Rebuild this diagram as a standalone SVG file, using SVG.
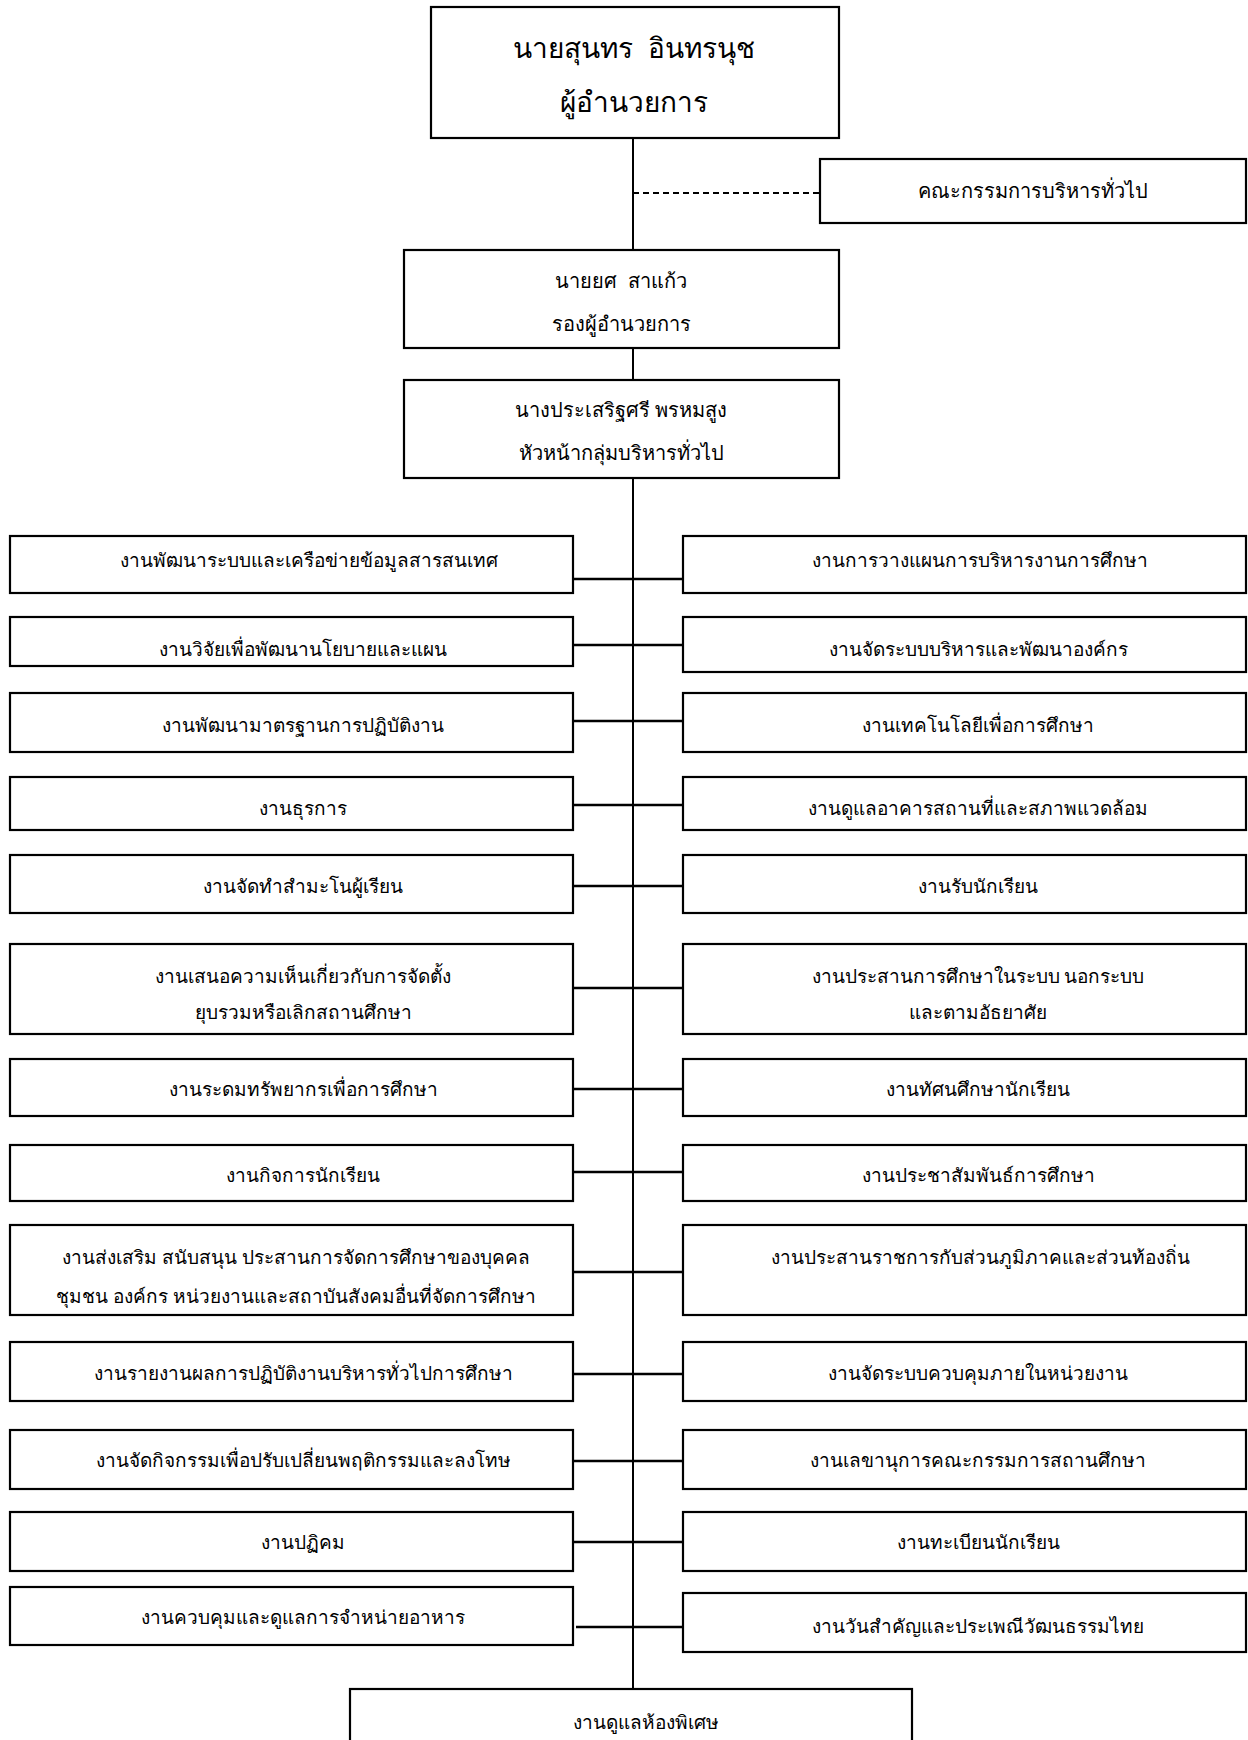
<svg xmlns="http://www.w3.org/2000/svg" width="1248" height="1740" viewBox="0 0 1248 1740">
<style>
.box{fill:#fff;stroke:#000;stroke-width:2.2}
.ln{stroke:#000;stroke-width:2;fill:none}
.hc{stroke:#000;stroke-width:2.5;fill:none}
.dash{stroke:#000;stroke-width:2;stroke-dasharray:6 4;fill:none}
text{font-family:"Noto Sans","DejaVu Sans",sans-serif;fill:#000;text-anchor:middle}
.t{font-size:19px}
.tm{font-size:20px}
.tl{font-size:28px}
</style>
<rect width="1248" height="1740" fill="#fff"/>
<g id="connectors">
<line class="ln" x1="633" y1="138" x2="633" y2="1689"/>
<line class="dash" x1="633" y1="193" x2="820" y2="193"/>
<line class="hc" x1="573" y1="579" x2="683" y2="579"/>
<line class="hc" x1="573" y1="645" x2="683" y2="645"/>
<line class="hc" x1="573" y1="721" x2="683" y2="721"/>
<line class="hc" x1="573" y1="805" x2="683" y2="805"/>
<line class="hc" x1="573" y1="886" x2="683" y2="886"/>
<line class="hc" x1="573" y1="988" x2="683" y2="988"/>
<line class="hc" x1="573" y1="1089" x2="683" y2="1089"/>
<line class="hc" x1="573" y1="1172" x2="683" y2="1172"/>
<line class="hc" x1="573" y1="1272" x2="683" y2="1272"/>
<line class="hc" x1="573" y1="1374" x2="683" y2="1374"/>
<line class="hc" x1="573" y1="1461" x2="683" y2="1461"/>
<line class="hc" x1="573" y1="1542" x2="683" y2="1542"/>
<line class="hc" x1="576" y1="1627" x2="687" y2="1627"/>
</g>
<g id="director">
<rect class="box" x="431" y="7" width="408" height="131"/>
<text class="tl" x="634" y="58" xml:space="preserve">นายสุนทร  อินทรนุช</text>
<text class="tl" x="634" y="112">ผู้อำนวยการ</text>
</g>
<g id="committee">
<rect class="box" x="820" y="159" width="426" height="64"/>
<text class="tm" x="1033" y="198">คณะกรรมการบริหารทั่วไป</text>
</g>
<g id="deputy">
<rect class="box" x="404" y="250" width="435" height="98"/>
<text class="tm" x="621" y="288" xml:space="preserve">นายยศ  สาแก้ว</text>
<text class="tm" x="621" y="331">รองผู้อำนวยการ</text>
</g>
<g id="head">
<rect class="box" x="404" y="380" width="435" height="98"/>
<text class="tm" x="621" y="417">นางประเสริฐศรี พรหมสูง</text>
<text class="tm" x="621" y="460">หัวหน้ากลุ่มบริหารทั่วไป</text>
</g>
<g id="L1"><rect class="box" x="10" y="536" width="563" height="57"/><text class="t" x="309" y="567">งานพัฒนาระบบและเครือข่ายข้อมูลสารสนเทศ</text></g>
<g id="R1"><rect class="box" x="683" y="536" width="563" height="57"/><text class="t" x="980" y="567">งานการวางแผนการบริหารงานการศึกษา</text></g>
<g id="L2"><rect class="box" x="10" y="617" width="563" height="49"/><text class="t" x="303" y="656">งานวิจัยเพื่อพัฒนานโยบายและแผน</text></g>
<g id="R2"><rect class="box" x="683" y="617" width="563" height="55"/><text class="t" x="978" y="656">งานจัดระบบบริหารและพัฒนาองค์กร</text></g>
<g id="L3"><rect class="box" x="10" y="693" width="563" height="59"/><text class="t" x="303" y="732">งานพัฒนามาตรฐานการปฏิบัติงาน</text></g>
<g id="R3"><rect class="box" x="683" y="693" width="563" height="59"/><text class="t" x="978" y="732">งานเทคโนโลยีเพื่อการศึกษา</text></g>
<g id="L4"><rect class="box" x="10" y="777" width="563" height="53"/><text class="t" x="303" y="815">งานธุรการ</text></g>
<g id="R4"><rect class="box" x="683" y="777" width="563" height="53"/><text class="t" x="978" y="815">งานดูแลอาคารสถานที่และสภาพแวดล้อม</text></g>
<g id="L5"><rect class="box" x="10" y="855" width="563" height="58"/><text class="t" x="303" y="893">งานจัดทำสำมะโนผู้เรียน</text></g>
<g id="R5"><rect class="box" x="683" y="855" width="563" height="58"/><text class="t" x="978" y="893">งานรับนักเรียน</text></g>
<g id="L6"><rect class="box" x="10" y="944" width="563" height="90"/><text class="t" x="303" y="983">งานเสนอความเห็นเกี่ยวกับการจัดตั้ง</text><text class="t" x="303" y="1019">ยุบรวมหรือเลิกสถานศึกษา</text></g>
<g id="R6"><rect class="box" x="683" y="944" width="563" height="90"/><text class="t" x="978" y="983">งานประสานการศึกษาในระบบ นอกระบบ</text><text class="t" x="978" y="1019">และตามอัธยาศัย</text></g>
<g id="L7"><rect class="box" x="10" y="1059" width="563" height="57"/><text class="t" x="303" y="1096">งานระดมทรัพยากรเพื่อการศึกษา</text></g>
<g id="R7"><rect class="box" x="683" y="1059" width="563" height="57"/><text class="t" x="978" y="1096">งานทัศนศึกษานักเรียน</text></g>
<g id="L8"><rect class="box" x="10" y="1145" width="563" height="56"/><text class="t" x="303" y="1182">งานกิจการนักเรียน</text></g>
<g id="R8"><rect class="box" x="683" y="1145" width="563" height="56"/><text class="t" x="978" y="1182">งานประชาสัมพันธ์การศึกษา</text></g>
<g id="L9"><rect class="box" x="10" y="1225" width="563" height="90"/><text class="t" x="296" y="1264">งานส่งเสริม สนับสนุน ประสานการจัดการศึกษาของบุคคล</text><text class="t" x="296" y="1303">ชุมชน องค์กร หน่วยงานและสถาบันสังคมอื่นที่จัดการศึกษา</text></g>
<g id="R9"><rect class="box" x="683" y="1225" width="563" height="90"/><text class="t" x="980" y="1264">งานประสานราชการกับส่วนภูมิภาคและส่วนท้องถิ่น</text></g>
<g id="L10"><rect class="box" x="10" y="1342" width="563" height="59"/><text class="t" x="303" y="1380">งานรายงานผลการปฏิบัติงานบริหารทั่วไปการศึกษา</text></g>
<g id="R10"><rect class="box" x="683" y="1342" width="563" height="59"/><text class="t" x="978" y="1380">งานจัดระบบควบคุมภายในหน่วยงาน</text></g>
<g id="L11"><rect class="box" x="10" y="1430" width="563" height="59"/><text class="t" x="303" y="1467">งานจัดกิจกรรมเพื่อปรับเปลี่ยนพฤติกรรมและลงโทษ</text></g>
<g id="R11"><rect class="box" x="683" y="1430" width="563" height="59"/><text class="t" x="978" y="1467">งานเลขานุการคณะกรรมการสถานศึกษา</text></g>
<g id="L12"><rect class="box" x="10" y="1512" width="563" height="59"/><text class="t" x="303" y="1549">งานปฏิคม</text></g>
<g id="R12"><rect class="box" x="683" y="1512" width="563" height="59"/><text class="t" x="978" y="1549">งานทะเบียนนักเรียน</text></g>
<g id="L13"><rect class="box" x="10" y="1587" width="563" height="58"/><text class="t" x="303" y="1624">งานควบคุมและดูแลการจำหน่ายอาหาร</text></g>
<g id="R13"><rect class="box" x="683" y="1593" width="563" height="59"/><text class="t" x="978" y="1633">งานวันสำคัญและประเพณีวัฒนธรรมไทย</text></g>
<g id="special"><rect class="box" x="350" y="1689" width="562" height="80"/><text class="t" x="646" y="1729">งานดูแลห้องพิเศษ</text></g>
</svg>
